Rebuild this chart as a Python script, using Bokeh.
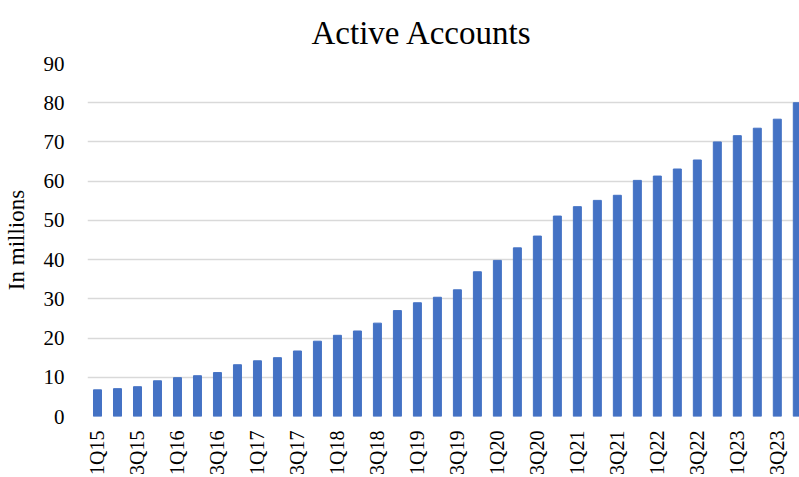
import math
from bokeh.plotting import figure
from bokeh.models import Range1d, FixedTicker
from bokeh.embed import file_html
from bokeh.resources import INLINE

quarters = ["1Q15", "2Q15", "3Q15", "4Q15", "1Q16", "2Q16", "3Q16", "4Q16",
            "1Q17", "2Q17", "3Q17", "4Q17", "1Q18", "2Q18", "3Q18", "4Q18",
            "1Q19", "2Q19", "3Q19", "4Q19", "1Q20", "2Q20", "3Q20", "4Q20",
            "1Q21", "2Q21", "3Q21", "4Q21", "1Q22", "2Q22", "3Q22", "4Q22",
            "1Q23", "2Q23", "3Q23", "4Q23"]
accounts = [6.8, 7.1, 7.6, 9.1, 9.9, 10.4, 11.2, 13.2,
            14.2, 15.0, 16.7, 19.2, 20.7, 21.8, 23.8, 27.0,
            29.0, 30.4, 32.3, 36.9, 39.8, 43.0, 46.0, 51.1,
            53.5, 55.1, 56.4, 60.2, 61.3, 63.1, 65.4, 70.0,
            71.6, 73.5, 75.8, 80.0]
y_ticks = [0, 10, 20, 30, 40, 50, 60, 70, 80, 90]

SERIF = "Liberation Serif"
idx = list(range(len(quarters)))
shown = idx[::2]

p = figure(width=799, height=477,
           x_range=Range1d(-0.5, 35.11), y_range=Range1d(0, 90),
           output_backend="svg", toolbar_location=None,
           min_border_left=84, min_border_right=0,
           min_border_top=63, min_border_bottom=60,
           title="Active Accounts")
p.outline_line_color = None
p.background_fill_color = "white"
p.border_fill_color = "white"

p.title.text_font = SERIF
p.title.text_font_size = "33px"
p.title.text_font_style = "normal"
p.title.text_color = "#000000"
p.title.align = "left"
p.title.offset = 224
p.title.vertical_align = "bottom"
p.title.standoff = 25

p.vbar(x=idx, top=accounts, width=0.4, color="#4472C4")

xa = p.xaxis[0]
xa.ticker = FixedTicker(ticks=shown)
xa.major_label_overrides = {i: quarters[i] for i in shown}
xa.major_label_orientation = math.pi / 2
xa.major_label_text_font = SERIF
xa.major_label_text_font_size = "20px"
xa.major_label_text_color = "#000000"
xa.major_label_standoff = 8
xa.axis_line_color = None
xa.major_tick_line_color = None
xa.minor_tick_line_color = None

ya = p.yaxis[0]
ya.ticker = FixedTicker(ticks=y_ticks)
ya.major_label_text_font = SERIF
ya.major_label_text_font_size = "21px"
ya.major_label_text_color = "#000000"
ya.major_label_standoff = 17
ya.axis_line_color = None
ya.major_tick_line_color = None
ya.minor_tick_line_color = None
ya.axis_label = "In millions"
ya.axis_label_text_font = SERIF
ya.axis_label_text_font_size = "23px"
ya.axis_label_text_font_style = "normal"
ya.axis_label_text_color = "#000000"
ya.axis_label_standoff = 12

p.xgrid.grid_line_color = None
p.ygrid.grid_line_color = "#d9d9d9"
p.ygrid.grid_line_width = 1.5

open("out.html", "w").write(file_html(p, INLINE))
